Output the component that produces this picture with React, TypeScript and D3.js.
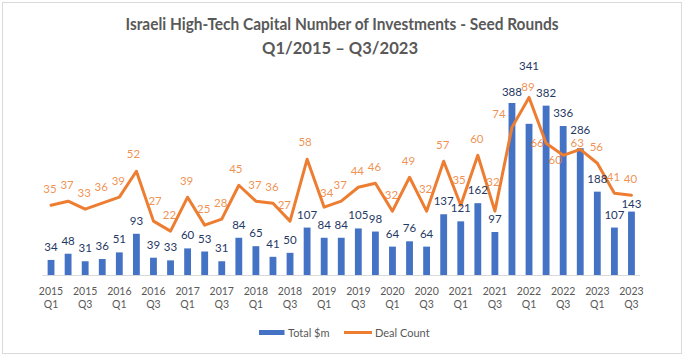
import React from "react";
import * as d3 from "d3";

const quarters = [
  "2015 Q1","2015 Q2","2015 Q3","2015 Q4",
  "2016 Q1","2016 Q2","2016 Q3","2016 Q4",
  "2017 Q1","2017 Q2","2017 Q3","2017 Q4",
  "2018 Q1","2018 Q2","2018 Q3","2018 Q4",
  "2019 Q1","2019 Q2","2019 Q3","2019 Q4",
  "2020 Q1","2020 Q2","2020 Q3","2020 Q4",
  "2021 Q1","2021 Q2","2021 Q3","2021 Q4",
  "2022 Q1","2022 Q2","2022 Q3","2022 Q4",
  "2023 Q1","2023 Q2","2023 Q3",
];
const totalM = [34,48,31,36,51,93,39,33,60,53,31,84,65,41,50,107,84,84,105,98,64,76,64,137,121,162,97,388,341,382,336,286,188,107,143];
const dealCount = [35,37,33,36,39,52,27,22,39,25,28,45,37,36,27,58,34,37,44,46,32,49,32,57,35,60,32,74,89,66,60,63,56,41,40];
const shownTicks = quarters.filter((_, i) => i % 2 === 0);

const W = 684, H = 356;
const FONT = "Lato, 'Open Sans', sans-serif";
const BLUE = "#4472C4";
const ORANGE = "#ED7D31";
const NAVY = "#1F3864";
const GRAY = "#595959";

// label nudges (styling, per index)
const lineLabelNudge: Record<number, [number, number]> = {
  5: [-3, -18], 6: [1.6, -21], 11: [-3, -17], 14: [-5.7, -17], 15: [-2, -18], 16: [2.6, -15],
  22: [-1, -23], 24: [-1.7, -26], 26: [-2, -30], 27: [-13, -14], 28: [-1, -11],
  29: [-9, -1], 30: [-8, 4], 31: [-3, -7],
};
const barLabelNudge: Record<number, number> = { 27: -11, 28: -58, 29: -13, 31: -19, 34: -8 };

export default function App() {
  const x = d3.scaleBand<string>().domain(quarters).range([42.5, 640]).paddingInner(0.6).paddingOuter(0.3);
  const yBar = d3.scaleLinear().domain([0, 450]).range([275, 75.5]);
  const yLine = d3.scaleLinear().domain([0, 100]).range([275, 75.5]);
  const cx = (q: string) => (x(q) as number) + x.bandwidth() / 2;
  const line = d3.line<number>().x((_, i) => cx(quarters[i])).y(d => yLine(d));

  return (
    <svg width={W} height={H} style={{ position: "absolute", left: 0, top: 0, background: "#fff" }} fontFamily={FONT}>
      <rect x={2.5} y={2.5} width={W - 5} height={H - 5} fill="#fff" stroke="#D9D9D9" strokeWidth={1} />
      <text x={342} y={23} textAnchor="middle" dominantBaseline="central" fontSize={17.5} fontWeight="bold" fill={GRAY}
        textLength={433} lengthAdjust="spacingAndGlyphs">
        Israeli High-Tech Capital Number of Investments - Seed Rounds
      </text>
      <text x={340} y={47} textAnchor="middle" dominantBaseline="central" fontSize={17.5} fontWeight="bold" fill={GRAY}
        textLength={156} lengthAdjust="spacingAndGlyphs">
        Q1/2015 – Q3/2023
      </text>
      {totalM.map((v, i) => (
        <rect key={"b" + i} x={x(quarters[i])} y={yBar(v)} width={x.bandwidth()} height={yBar(0) - yBar(v)} fill={BLUE} />
      ))}
      <line x1={42.5} x2={640} y1={275.5} y2={275.5} stroke="#D9D9D9" strokeWidth={1} />
      <path d={line(dealCount) || ""} fill="none" stroke={ORANGE} strokeWidth={3} strokeLinejoin="round" strokeLinecap="round" />
      {totalM.map((v, i) => (
        <text key={"bl" + i} x={cx(quarters[i])} y={yBar(v) + (barLabelNudge[i] ?? -13.5)} textAnchor="middle"
          dominantBaseline="central" fontSize={11.5} fill={NAVY}>{v}</text>
      ))}
      {dealCount.map((v, i) => {
        const [dx, dy] = lineLabelNudge[i] ?? [-1, -17];
        return (
          <text key={"ll" + i} x={cx(quarters[i]) + dx} y={yLine(v) + dy} textAnchor="middle"
            dominantBaseline="central" fontSize={11.5} fill={ORANGE} fillOpacity={0.85}>{v}</text>
        );
      })}
      {shownTicks.map(q => {
        const [yr, qq] = q.split(" ");
        return (
          <g key={"t" + q}>
            <text x={cx(q)} y={290.7} textAnchor="middle" dominantBaseline="central" fontSize={10.5} fill={GRAY}>{yr}</text>
            <text x={cx(q)} y={304} textAnchor="middle" dominantBaseline="central" fontSize={10.5} fill={GRAY}>{qq}</text>
          </g>
        );
      })}
      <rect x={259} y={330} width={25.5} height={5} fill={BLUE} />
      <text x={288} y={332.5} dominantBaseline="central" fontSize={11} fill={GRAY}>Total $m</text>
      <line x1={344} x2={372} y1={332.5} y2={332.5} stroke={ORANGE} strokeWidth={3} />
      <text x={375} y={332.5} dominantBaseline="central" fontSize={11} fill={GRAY}>Deal Count</text>
    </svg>
  );
}
